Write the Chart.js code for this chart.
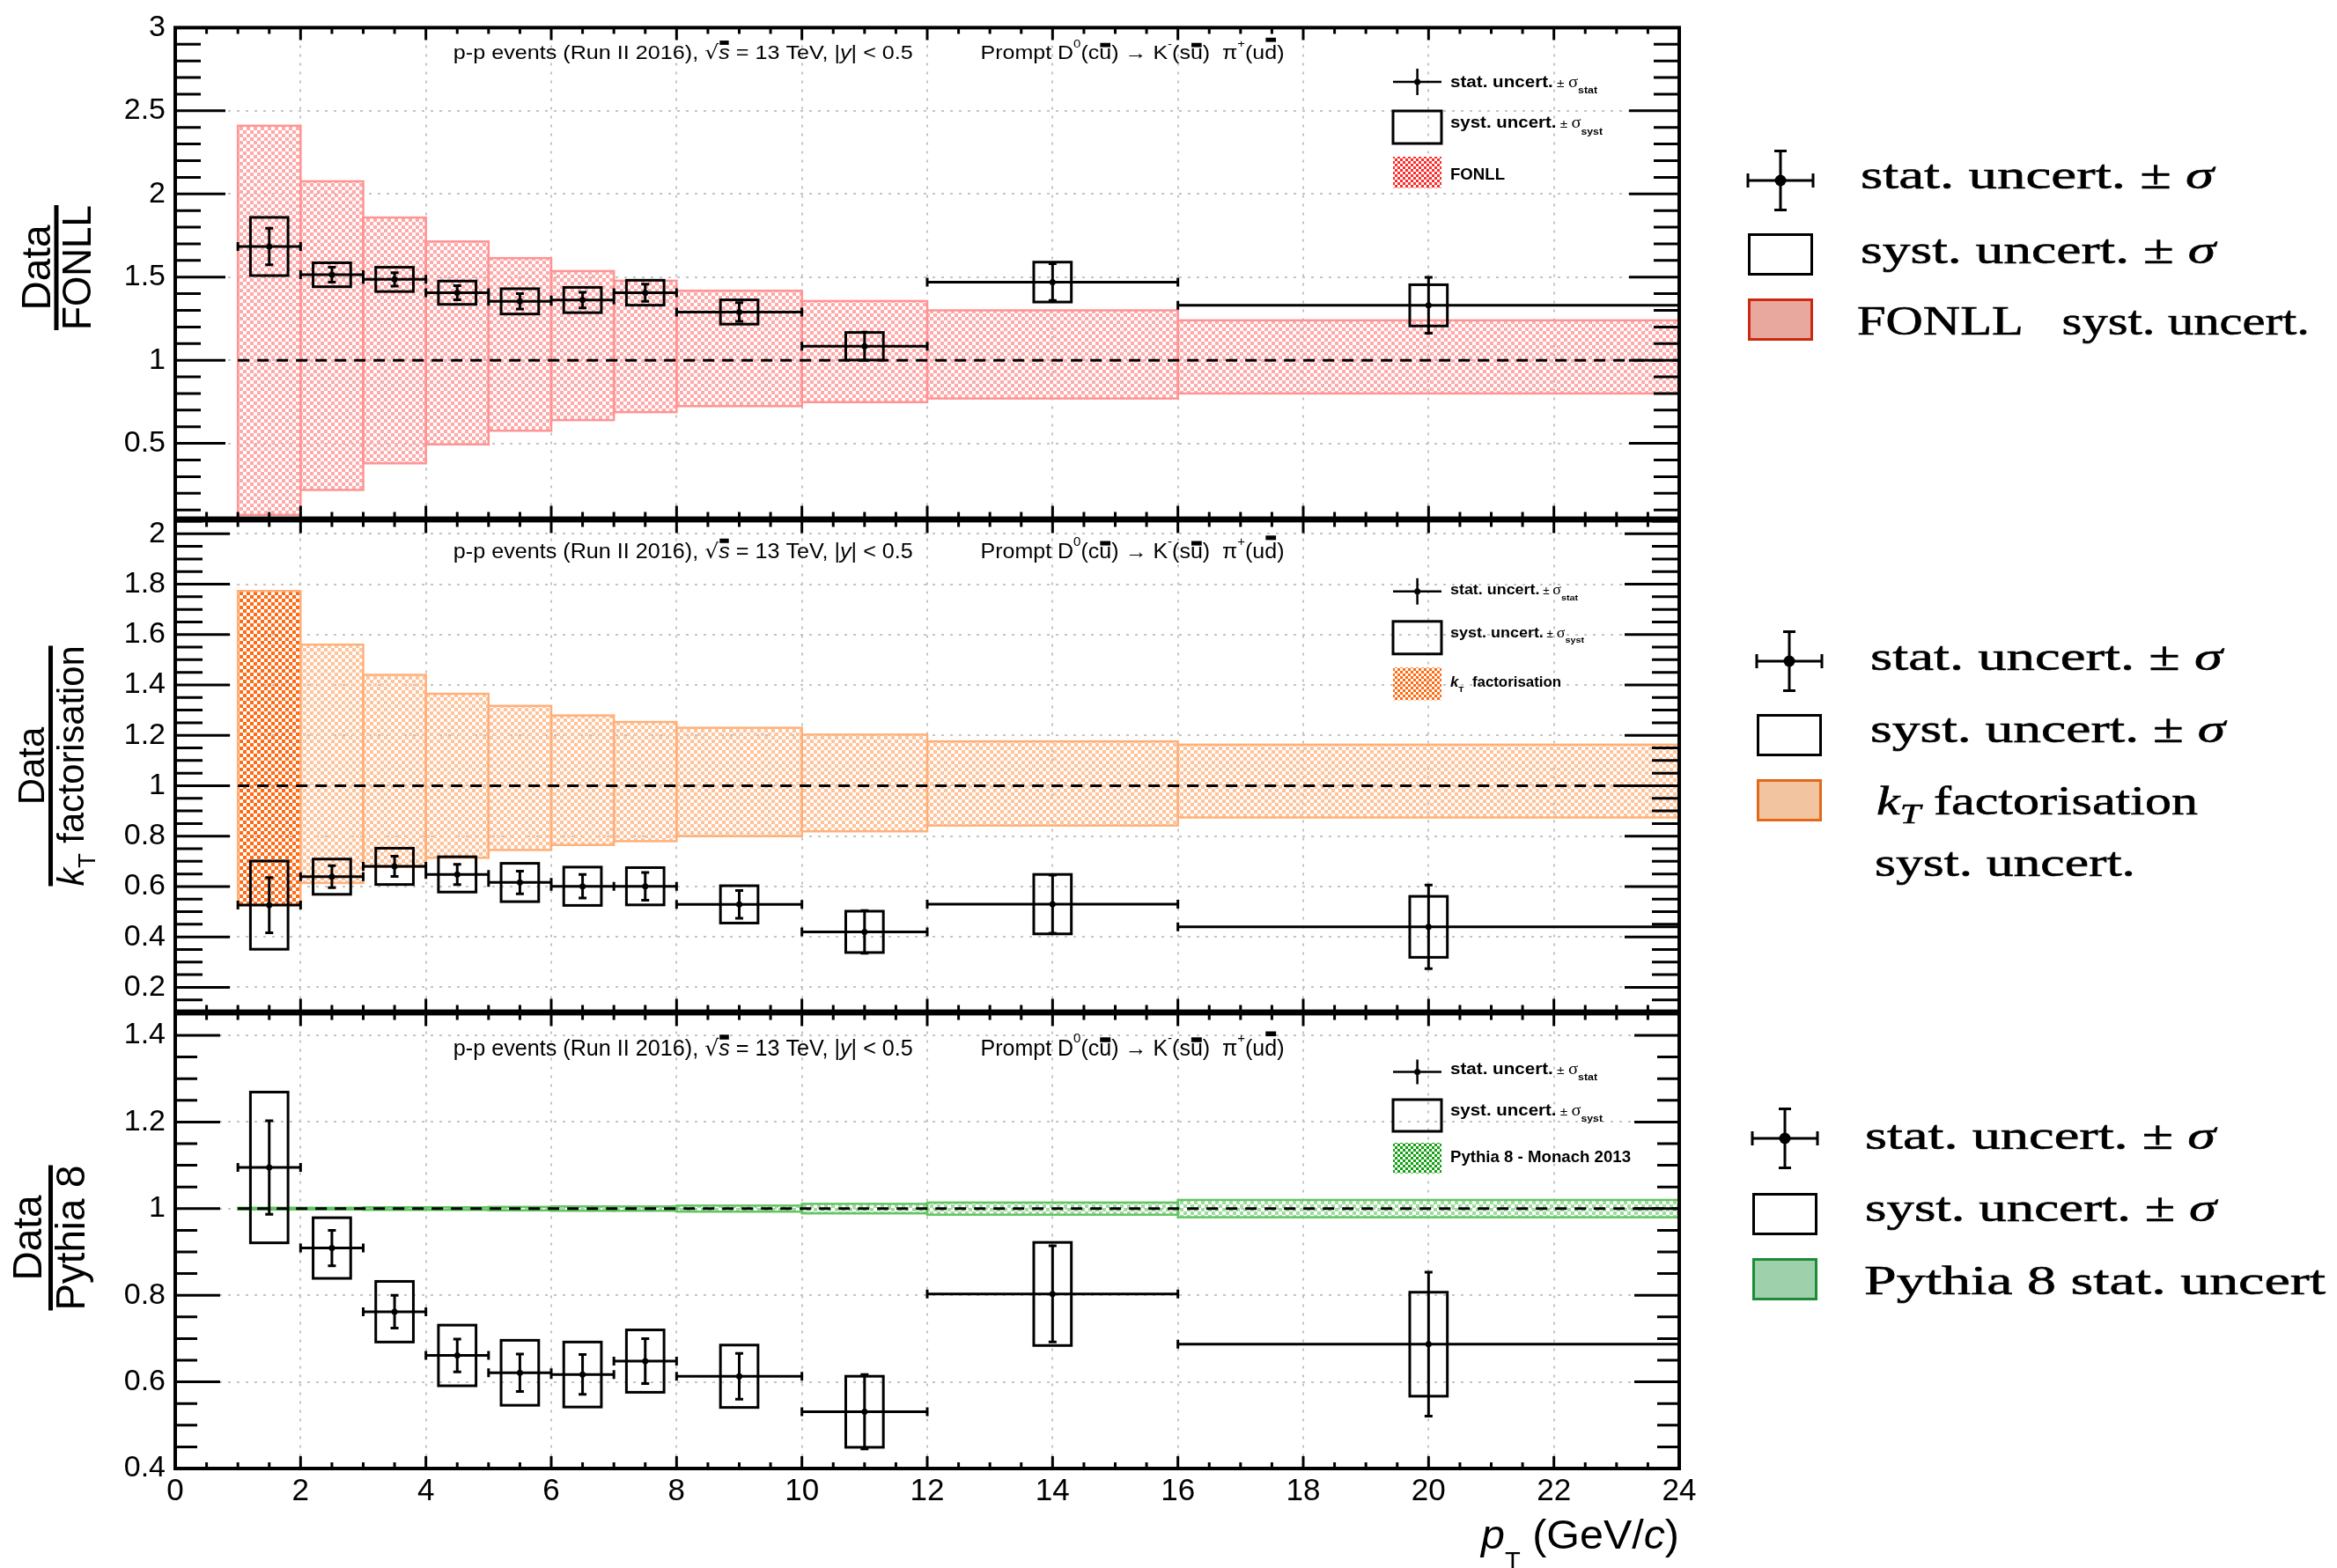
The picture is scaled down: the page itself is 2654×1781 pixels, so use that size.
<!DOCTYPE html>
<html>
<head>
<meta charset="utf-8">
<script src="https://cdn.jsdelivr.net/npm/chart.js@4.4.0/dist/chart.umd.min.js"></script>
<style>
  body { margin: 0; background: #fff; width: 2654px; height: 1781px; position: relative; overflow: hidden; }
  canvas { position: absolute; left: 0; }
  .leg { position: absolute; white-space: nowrap; font-family: "Liberation Serif", serif; font-size: 46px; line-height: 46px; transform-origin: 0 0; color: #000; -webkit-text-stroke: 0.6px #000; }
  .leg sub { font-size: 0.7em; vertical-align: -0.3em; line-height: 0; }
  #marks { position: absolute; left: 0; top: 0; }
</style>
</head>
<body>
<canvas id="pFonll" width="1960" height="620" style="top:0px;width:1960px;height:620px"></canvas>
<canvas id="pKt" width="1960" height="620" style="top:560px;width:1960px;height:620px"></canvas>
<canvas id="pPythia" width="1960" height="661" style="top:1120px;width:1960px;height:661px"></canvas>
<svg id="marks" width="2654" height="1781"></svg>
<div id="side"></div>
<script>
// pT bins (GeV/c)
var binLo = [1, 2, 3, 4, 5, 6, 7, 8, 10, 12, 16];
var binHi = [2, 3, 4, 5, 6, 7, 8, 10, 12, 16, 24];
var binMid = [1.5, 2.5, 3.5, 4.5, 5.5, 6.5, 7.5, 9, 11, 14, 20];

// Data / FONLL
var fonllRatio = [1.684, 1.514, 1.486, 1.406, 1.354, 1.362, 1.406, 1.290, 1.084, 1.470, 1.330];
var fonllStat = [0.110, 0.045, 0.040, 0.042, 0.046, 0.047, 0.052, 0.056, 0.085, 0.110, 0.168];
var fonllSyst = [0.175, 0.072, 0.073, 0.070, 0.076, 0.076, 0.075, 0.073, 0.083, 0.120, 0.124];
var fonllBandLo = [0.07, 0.22, 0.38, 0.494, 0.576, 0.64, 0.688, 0.724, 0.748, 0.77, 0.80];
var fonllBandHi = [2.41, 2.076, 1.858, 1.714, 1.614, 1.536, 1.478, 1.418, 1.356, 1.30, 1.24];

// Data / kT factorisation
var ktRatio = [0.526, 0.639, 0.680, 0.648, 0.616, 0.601, 0.601, 0.529, 0.420, 0.530, 0.440];
var ktStat = [0.110, 0.044, 0.040, 0.040, 0.045, 0.047, 0.055, 0.055, 0.085, 0.115, 0.166];
var ktSyst = [0.175, 0.070, 0.072, 0.070, 0.076, 0.076, 0.074, 0.074, 0.082, 0.118, 0.121];
var ktBandLo = [0.526, 0.614, 0.678, 0.714, 0.745, 0.765, 0.78, 0.80, 0.819, 0.842, 0.874];
var ktBandHi = [1.773, 1.56, 1.44, 1.365, 1.317, 1.279, 1.253, 1.23, 1.203, 1.176, 1.163];

// Data / Pythia 8
var pyRatio = [1.095, 0.909, 0.762, 0.661, 0.621, 0.617, 0.648, 0.613, 0.531, 0.803, 0.687];
var pyStat = [0.108, 0.041, 0.038, 0.038, 0.043, 0.046, 0.052, 0.053, 0.086, 0.111, 0.166];
var pySyst = [0.174, 0.070, 0.070, 0.070, 0.075, 0.075, 0.072, 0.072, 0.082, 0.119, 0.120];
var pyBandLo = [0.998, 0.998, 0.997, 0.997, 0.996, 0.995, 0.995, 0.993, 0.989, 0.986, 0.980];
var pyBandHi = [1.002, 1.002, 1.003, 1.003, 1.004, 1.005, 1.005, 1.007, 1.011, 1.014, 1.020];

// axis ticks
var ptTicks = [0, 2, 4, 6, 8, 10, 12, 14, 16, 18, 20, 22, 24];
var fonllTicks = [0.5, 1, 1.5, 2, 2.5, 3];
var ktTicks = [0.2, 0.4, 0.6, 0.8, 1, 1.2, 1.4, 1.6, 1.8, 2];
var pyTicks = [0.4, 0.6, 0.8, 1, 1.2, 1.4];

var systHalfWidth = 0.3;

function checker(color, cell) {
  var c = document.createElement("canvas");
  c.width = c.height = cell * 2;
  var g = c.getContext("2d");
  g.fillStyle = color;
  g.fillRect(0, 0, cell, cell);
  g.fillRect(cell, cell, cell, cell);
  return c;
}

function fontOf(s, size, family) {
  return (s.i ? "italic " : "") + (s.b ? "bold " : "") + (size * (s.sz || 1)).toFixed(1) + "px " + (s.f || family);
}

// draws a run of text pieces (sub/superscripts, overbars), optionally squeezed to a width
function drawRich(ctx, segs, x, y, size, family, fitW, align) {
  var widths = [], total = 0;
  segs.forEach(function (s) {
    ctx.font = fontOf(s, size, family);
    var w = ctx.measureText(s.t).width;
    widths.push(w);
    total += w;
  });
  var k = fitW ? fitW / total : 1;
  var x0 = x;
  if (align === "right") x0 = x - total * k;
  if (align === "center") x0 = x - total * k / 2;
  ctx.save();
  ctx.translate(x0, y);
  ctx.scale(k, 1);
  ctx.textAlign = "left";
  ctx.textBaseline = "alphabetic";
  ctx.fillStyle = "#000";
  var cx = 0;
  segs.forEach(function (s, i) {
    ctx.font = fontOf(s, size, family);
    var dy = (s.dy || 0) * size;
    ctx.fillText(s.t, cx, dy);
    if (s.bar) ctx.fillRect(cx + 1, dy - s.bar * size, widths[i] - 2, 0.22 * size);
    cx += widths[i];
  });
  ctx.restore();
}

var headline = [
  { t: "p-p events (Run II 2016), " }, { t: "\u221A", f: "DejaVu Sans" }, { t: "s", i: 1, bar: 0.95 },
  { t: " = 13 TeV, |" }, { t: "y", i: 1 }, { t: "| < 0.5" }
];
var decay = [
  { t: "Prompt D" }, { t: "0", sz: 0.6, dy: -0.6 }, { t: "(c" }, { t: "u", bar: 0.83 }, { t: ") \u2192 K" },
  { t: "-", sz: 0.6, dy: -0.6 }, { t: "(s" }, { t: "u", bar: 0.83 }, { t: ")  \u03C0" },
  { t: "+", sz: 0.6, dy: -0.6 }, { t: "(u" }, { t: "d", bar: 1.1 }, { t: ")" }
];
var statRow = [{ t: "stat. uncert.", b: 1 }, { t: " \u00B1 ", sz: 0.75 }, { t: "\u03C3", f: "Liberation Serif" }, { t: "stat", b: 1, sz: 0.6, dy: 0.4 }];
var systRow = [{ t: "syst. uncert.", b: 1 }, { t: " \u00B1 ", sz: 0.75 }, { t: "\u03C3", f: "Liberation Serif" }, { t: "syst", b: 1, sz: 0.6, dy: 0.4 }];

var panels = [
  {
    id: "pFonll", top: 0, padTop: 25, xAxisH: 31, showX: false,
    ratio: fonllRatio, stat: fonllStat, syst: fonllSyst, bandLo: fonllBandLo, bandHi: fonllBandHi,
    yMin: 0.05, yMax: 3, yTicks: fonllTicks, minorStep: 0.1, majorLen: 57, minorLen: 29,
    cell: "#ffaaaa", firstCell: "#ffaaaa", edge: "#ff9494", legCell: "#ff2a2a",
    textY: 67, textSize: 22,
    leg: { cy: 93, vh: 15, box: [126, 163], hatch: [178, 213.5], base: [98.7, 145.4, 203.6], size: 18, fit: [167, 173, 62],
      label: [{ t: "FONLL", b: 1 }] },
    title: { cy: 304, numX: 57, numSize: 46, barX: 64, barLen: 142, denX: 103, denSize: 46,
      den: [{ t: "FONLL" }] }
  },
  {
    id: "pKt", top: 560, padTop: 29, xAxisH: 30, showX: false,
    ratio: ktRatio, stat: ktStat, syst: ktSyst, bandLo: ktBandLo, bandHi: ktBandHi,
    yMin: 0.105, yMax: 2.052, yTicks: ktTicks, minorStep: 0.05, majorLen: 62, minorLen: 31,
    cell: "#ffc39a", firstCell: "#ff6a14", edge: "#ffb07a", legCell: "#ff6a10",
    textY: 633.6, textSize: 23,
    leg: { cy: 671.7, vh: 15, box: [705.8, 742.8], hatch: [758.3, 795.3], base: [675.4, 724, 780], size: 16, fit: [145, 152, 126],
      label: [{ t: "k", b: 1, i: 1 }, { t: "T", b: 1, sz: 0.6, dy: 0.35 }, { t: "  factorisation", b: 1 }] },
    title: { cy: 870, numX: 50, numSize: 42, barX: 57.5, barLen: 273, denX: 95, denSize: 42,
      den: [{ t: "k", i: 1 }, { t: "T", sz: 0.65, dy: 0.3 }, { t: " factorisation" }] }
  },
  {
    id: "pPythia", top: 1120, padTop: 30, xAxisH: 113, showX: true,
    ratio: pyRatio, stat: pyStat, syst: pySyst, bandLo: pyBandLo, bandHi: pyBandHi,
    yMin: 0.4, yMax: 1.45, yTicks: pyTicks, minorStep: 0.05, majorLen: 51, minorLen: 25,
    cell: "#9edc9e", firstCell: "#9edc9e", edge: "#62c462", legCell: "#10a010",
    textY: 1199, textSize: 25,
    leg: { cy: 1217.6, vh: 14, box: [1249, 1285], hatch: [1298, 1332.6], base: [1219.6, 1267, 1319.6], size: 18, fit: [167, 173, 205],
      label: [{ t: "Pythia 8 - Monach 2013", b: 1 }] },
    title: { cy: 1406, numX: 47, numSize: 46, barX: 57.5, barLen: 165, denX: 96, denSize: 46,
      den: [{ t: "Pythia 8" }] }
  }
];

function bandPlugin(p) {
  var lightFill = null, denseFill = null;
  return {
    id: "bands",
    beforeDatasetsDraw: function (chart) {
      var ctx = chart.ctx, a = chart.chartArea, xs = chart.scales.x, ys = chart.scales.y;
      if (!lightFill) {
        lightFill = ctx.createPattern(checker(p.cell, 4), "repeat");
        denseFill = ctx.createPattern(checker(p.firstCell, 4), "repeat");
      }
      ctx.save();
      ctx.beginPath();
      ctx.rect(a.left, a.top, a.right - a.left, a.bottom - a.top);
      ctx.clip();

      // model uncertainty bands, one box per bin
      ctx.lineWidth = 2.5;
      ctx.strokeStyle = p.edge;
      for (var i = 0; i < binLo.length; i++) {
        var x0 = xs.getPixelForValue(binLo[i]), x1 = xs.getPixelForValue(binHi[i]);
        var y0 = ys.getPixelForValue(p.bandHi[i]), y1 = ys.getPixelForValue(p.bandLo[i]);
        ctx.fillStyle = i === 0 ? denseFill : lightFill;
        ctx.fillRect(x0, y0, x1 - x0, y1 - y0);
        ctx.strokeRect(x0, y0, x1 - x0, y1 - y0);
      }

      // unity reference
      ctx.strokeStyle = "#000";
      ctx.lineWidth = 3;
      ctx.setLineDash([13, 9]);
      ctx.beginPath();
      ctx.moveTo(xs.getPixelForValue(binLo[0]), ys.getPixelForValue(1));
      ctx.lineTo(xs.getPixelForValue(24), ys.getPixelForValue(1));
      ctx.stroke();
      ctx.setLineDash([]);

      // systematic boxes
      ctx.lineWidth = 3;
      for (i = 0; i < binMid.length; i++) {
        var bx0 = xs.getPixelForValue(binMid[i] - systHalfWidth), bx1 = xs.getPixelForValue(binMid[i] + systHalfWidth);
        var by0 = ys.getPixelForValue(p.ratio[i] + p.syst[i]), by1 = ys.getPixelForValue(p.ratio[i] - p.syst[i]);
        ctx.strokeRect(bx0, by0, bx1 - bx0, by1 - by0);
      }

      // statistical error bars with the bin width
      ctx.beginPath();
      for (i = 0; i < binMid.length; i++) {
        var xl = xs.getPixelForValue(binLo[i]), xr = xs.getPixelForValue(binHi[i]), xm = xs.getPixelForValue(binMid[i]);
        var y = ys.getPixelForValue(p.ratio[i]);
        var yt = ys.getPixelForValue(p.ratio[i] + p.stat[i]), yb = ys.getPixelForValue(p.ratio[i] - p.stat[i]);
        ctx.moveTo(xl, y); ctx.lineTo(xr, y);
        ctx.moveTo(xl, y - 5); ctx.lineTo(xl, y + 5);
        ctx.moveTo(xr, y - 5); ctx.lineTo(xr, y + 5);
        ctx.moveTo(xm, yt); ctx.lineTo(xm, yb);
        ctx.moveTo(xm - 4.5, yt); ctx.lineTo(xm + 4.5, yt);
        ctx.moveTo(xm - 4.5, yb); ctx.lineTo(xm + 4.5, yb);
      }
      ctx.stroke();
      ctx.restore();
    },
    afterDraw: function (chart) {
      var ctx = chart.ctx, a = chart.chartArea, xs = chart.scales.x, ys = chart.scales.y;
      ctx.save();
      ctx.strokeStyle = "#000";

      // inward ticks on all four sides
      ctx.lineWidth = 3;
      ctx.beginPath();
      for (var v = 0; v <= 24.001; v += 0.5) {
        var px = xs.getPixelForValue(v);
        var len = ptTicks.indexOf(Math.round(v * 10) / 10) >= 0 ? 14 : 7;
        ctx.moveTo(px, a.bottom); ctx.lineTo(px, a.bottom - len);
        ctx.moveTo(px, a.top); ctx.lineTo(px, a.top + len);
      }
      var n0 = Math.ceil(p.yMin / p.minorStep - 1e-6), n1 = Math.floor(p.yMax / p.minorStep + 1e-6);
      for (var n = n0; n <= n1; n++) {
        var val = Math.round(n * p.minorStep * 1000) / 1000;
        var py = ys.getPixelForValue(val);
        var major = p.yTicks.some(function (t) { return Math.abs(t - val) < 1e-6; });
        var l = major ? p.majorLen : p.minorLen;
        ctx.moveTo(a.left, py); ctx.lineTo(a.left + l, py);
        ctx.moveTo(a.right, py); ctx.lineTo(a.right - l, py);
      }
      ctx.stroke();
      ctx.lineWidth = 4;
      ctx.strokeRect(a.left, a.top, a.right - a.left, a.bottom - a.top);

      // everything below is laid out in page coordinates
      ctx.translate(0, -p.top);

      drawRich(ctx, headline, 514.8, p.textY, p.textSize, "Liberation Sans", 522);
      drawRich(ctx, decay, 1113.5, p.textY, p.textSize, "Liberation Sans", 345);

      // in-frame legend
      var L = p.leg, lx0 = 1582, lx1 = 1637, lxm = 1609.6;
      ctx.lineWidth = 2.5;
      ctx.beginPath();
      ctx.moveTo(lx0, L.cy); ctx.lineTo(lx1, L.cy);
      ctx.moveTo(lxm, L.cy - L.vh); ctx.lineTo(lxm, L.cy + L.vh);
      ctx.stroke();
      ctx.beginPath();
      ctx.arc(lxm, L.cy, 3.5, 0, Math.PI * 2);
      ctx.fillStyle = "#000";
      ctx.fill();
      ctx.lineWidth = 3;
      ctx.strokeRect(lx0, L.box[0], lx1 - lx0, L.box[1] - L.box[0]);
      ctx.fillStyle = ctx.createPattern(checker(p.legCell, 3), "repeat");
      ctx.fillRect(lx0, L.hatch[0], lx1 - lx0, L.hatch[1] - L.hatch[0]);
      drawRich(ctx, statRow, 1647, L.base[0], L.size, "Liberation Sans", L.fit[0]);
      drawRich(ctx, systRow, 1647, L.base[1], L.size, "Liberation Sans", L.fit[1]);
      drawRich(ctx, L.label, 1647, L.base[2], L.size, "Liberation Sans", L.fit[2]);

      // y title as a fraction
      var T = p.title;
      ctx.save();
      ctx.translate(T.numX, T.cy);
      ctx.rotate(-Math.PI / 2);
      drawRich(ctx, [{ t: "Data" }], 0, 0, T.numSize, "Liberation Sans", null, "center");
      ctx.restore();
      ctx.save();
      ctx.translate(T.denX, T.cy);
      ctx.rotate(-Math.PI / 2);
      drawRich(ctx, T.den, 0, 0, T.denSize, "Liberation Sans", T.barLen, "center");
      ctx.restore();
      ctx.fillStyle = "#000";
      ctx.fillRect(T.barX - 2.5, T.cy - T.barLen / 2, 5, T.barLen);

      if (p.showX) {
        drawRich(ctx, [{ t: "p", i: 1 }, { t: "T", sz: 0.6, dy: 0.5 }, { t: " (GeV/" }, { t: "c", i: 1 }, { t: ")" }],
          1907, 1759, 46, "Liberation Sans", 225, "right");
      }
      ctx.restore();
    }
  };
}

panels.forEach(function (p) {
  var canvas = document.getElementById(p.id);
  new Chart(canvas.getContext("2d"), {
    type: "scatter",
    data: {
      datasets: [{
        data: binMid.map(function (x, i) { return { x: x, y: p.ratio[i] }; }),
        pointRadius: 3.5,
        pointBackgroundColor: "#000",
        pointBorderWidth: 0
      }]
    },
    options: {
      responsive: false,
      animation: false,
      devicePixelRatio: 1,
      layout: { padding: { top: p.padTop, right: 53, bottom: 0, left: 0 } },
      plugins: { legend: { display: false }, tooltip: { enabled: false } },
      scales: {
        x: {
          type: "linear", min: 0, max: 24,
          afterBuildTicks: function (s) { s.ticks = ptTicks.map(function (v) { return { value: v }; }); },
          afterFit: function (s) { s.height = p.xAxisH; },
          grid: { color: "#c4c4c4", lineWidth: 2, drawTicks: false },
          border: { display: false, dash: [3, 7] },
          ticks: {
            display: p.showX, padding: 5, autoSkip: false, maxRotation: 0, color: "#000",
            font: { family: "Liberation Sans", size: 35 },
            callback: function (v) { return String(v); }
          }
        },
        y: {
          type: "linear", min: p.yMin, max: p.yMax,
          afterBuildTicks: function (s) { s.ticks = p.yTicks.map(function (v) { return { value: v }; }); },
          afterFit: function (s) { s.width = 199; },
          grid: { color: "#c4c4c4", lineWidth: 2, drawTicks: false },
          border: { display: false, dash: [3, 7] },
          ticks: {
            padding: 11, color: "#000",
            font: { family: "Liberation Sans", size: 34 },
            callback: function (v) { return String(v); }
          }
        }
      }
    },
    plugins: [bandPlugin(p)]
  });
});

// legends beside the panels
var sideLegends = [
  { cx: 2022, cy: 205, box: 265, fillBox: 339, fill: "#e8a89e", stroke: "#cc2a10", x: 2113,
    rows: [["stat. uncert. \u00B1 <i>\u03C3</i>", 214, 401], ["syst. uncert. \u00B1 <i>\u03C3</i>", 299, 403],
           ["FONLL&nbsp;&nbsp; syst. uncert.", 380, 514, 2109]] },
  { cx: 2032, cy: 751, box: 811, fillBox: 885, fill: "#f2c4a0", stroke: "#e06a1a", x: 2124,
    rows: [["stat. uncert. \u00B1 <i>\u03C3</i>", 761, 400], ["syst. uncert. \u00B1 <i>\u03C3</i>", 843, 403],
           ["<i>k<sub>T</sub></i> factorisation", 925, 365, 2131], ["syst. uncert.", 995, 296, 2129]] },
  { cx: 2027, cy: 1293, box: 1355, fillBox: 1429, fill: "#9dd0ab", stroke: "#1e8c34", x: 2118,
    rows: [["stat. uncert. \u00B1 <i>\u03C3</i>", 1305, 398], ["syst. uncert. \u00B1 <i>\u03C3</i>", 1387, 399],
           ["Pythia 8 stat. uncert", 1470, 524, 2117]] }
];

var svg = document.getElementById("marks");
var side = document.getElementById("side");
var svgParts = [];
sideLegends.forEach(function (g) {
  var x0 = g.cx - 37, x1 = g.cx + 37;
  svgParts.push('<path fill="none" stroke="#000" stroke-width="3" d="M' + x0 + " " + g.cy + "H" + x1 +
    "M" + x0 + " " + (g.cy - 8) + "V" + (g.cy + 8) + "M" + x1 + " " + (g.cy - 8) + "V" + (g.cy + 8) +
    "M" + g.cx + " " + (g.cy - 33.5) + "V" + (g.cy + 33.5) +
    "M" + (g.cx - 7) + " " + (g.cy - 33.5) + "H" + (g.cx + 7) + "M" + (g.cx - 7) + " " + (g.cy + 33.5) + "H" + (g.cx + 7) + '"/>');
  svgParts.push('<circle cx="' + g.cx + '" cy="' + g.cy + '" r="6.5" fill="#000"/>');
  svgParts.push('<rect x="' + (x0 + 1.5) + '" y="' + (g.box + 1.5) + '" width="71" height="45" fill="none" stroke="#000" stroke-width="3"/>');
  svgParts.push('<rect x="' + (x0 + 1.5) + '" y="' + (g.fillBox + 1.5) + '" width="71" height="45" fill="' + g.fill + '" stroke="' + g.stroke + '" stroke-width="3"/>');
  g.rows.forEach(function (r) {
    var d = document.createElement("div");
    d.className = "leg";
    d.innerHTML = r[0];
    d.style.left = (r[3] || g.x) + "px";
    d.style.top = (r[1] - 38.5) + "px";
    d.dataset.w = r[2];
    side.appendChild(d);
  });
});
svg.innerHTML = svgParts.join("");

document.fonts.ready.then(function () {
  document.querySelectorAll(".leg").forEach(function (d) {
    var w = d.getBoundingClientRect().width;
    d.style.transform = "scaleX(" + (d.dataset.w / w).toFixed(4) + ")";
  });
});
</script>
</body>
</html>
